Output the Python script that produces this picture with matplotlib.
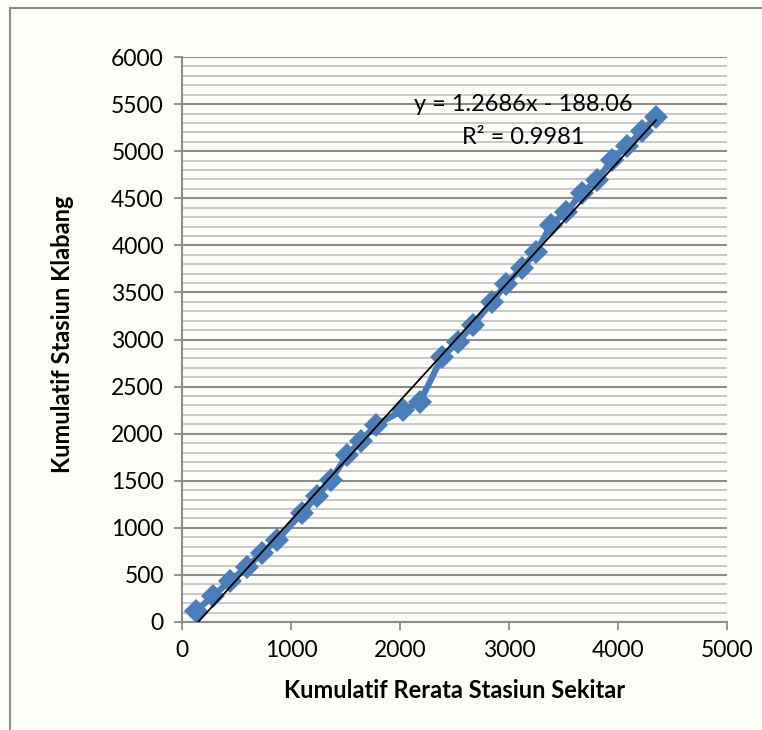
import matplotlib
matplotlib.use("Agg")
import matplotlib.pyplot as plt
from matplotlib.patches import Rectangle

# Cumulative rainfall: mean of surrounding stations vs Klabang station
kumulatif_sekitar = [128, 284, 440, 596, 734, 872, 1101, 1239, 1367, 1514,
                     1642, 1780, 2028, 2183, 2385, 2532, 2670, 2844, 2972,
                     3119, 3248, 3385, 3523, 3670, 3807, 3945, 4083, 4220, 4349]
kumulatif_klabang = [117, 276, 435, 584, 733, 871, 1157, 1338, 1508, 1773,
                     1922, 2092, 2251, 2336, 2814, 2973, 3154, 3398, 3589,
                     3759, 3929, 4216, 4354, 4556, 4694, 4906, 5055, 5214, 5363]

slope = 1.2686
intercept = -188.06
r2 = 0.9981

x_ticks = [0, 1000, 2000, 3000, 4000, 5000]
y_ticks = list(range(0, 6001, 500))

plt.rcParams["font.family"] = ["Lato", "DejaVu Sans"]

bg = "#fdfdf9"
fig = plt.figure(figsize=(7.62, 7.30), dpi=100, facecolor=bg)
ax = fig.add_axes([182 / 762, 1 - 622 / 730, (727 - 182) / 762, (622 - 57) / 730])
ax.set_facecolor(bg)

# chart area frame
fig.patches.append(Rectangle((10 / 762, -0.01), 1.0, 1 - 8 / 730 + 0.01,
                             transform=fig.transFigure, fill=False,
                             edgecolor="#8c8c8c", linewidth=1.5))

ax.set_xlim(0, 5000)
ax.set_ylim(0, 6000)
ax.set_xticks(x_ticks)
ax.set_yticks(y_ticks)
ax.set_yticks(range(0, 6001, 100), minor=True)
ax.tick_params(axis="y", which="minor", length=0)
ax.tick_params(axis="both", which="major", length=6, width=1.3, color="#8c8c8c",
               labelsize=16.5, labelcolor="black", pad=7)

ax.grid(axis="y", which="minor", color="#c4c4c4", linewidth=1.3)
ax.grid(axis="y", which="major", color="#8c8c8c", linewidth=1.5)
ax.set_axisbelow(True)

for side in ["top", "right"]:
    ax.spines[side].set_visible(False)
for side in ["left", "bottom"]:
    ax.spines[side].set_color("#8c8c8c")
    ax.spines[side].set_linewidth(1.5)

ax.plot(kumulatif_sekitar, kumulatif_klabang, color="#4a7ebb", linewidth=4.5,
        marker="D", markersize=12, markeredgewidth=0, zorder=3)

x0, x1 = min(kumulatif_sekitar), max(kumulatif_sekitar)
ax.plot([x0, x1], [slope * x0 + intercept, slope * x1 + intercept],
        color="black", linewidth=1.3, zorder=4)

ax.text(3130, 5500, f"y = {slope}x - {abs(intercept):.2f}", ha="center",
        va="center", fontsize=17)
ax.text(3130, 5150, f"R² = {r2}", ha="center", va="center", fontsize=17)

ax.set_xlabel("Kumulatif Rerata Stasiun Sekitar", fontsize=17, fontweight="bold")
ax.set_ylabel("Kumulatif Stasiun Klabang", fontsize=17, fontweight="bold")
ax.xaxis.set_label_coords(0.5, -0.122)
ax.yaxis.set_label_coords(-0.22, 0.51)
ax.xaxis.label.set_va("center")
ax.yaxis.label.set_va("center")

fig.savefig("out.png", dpi=100, facecolor=bg)
